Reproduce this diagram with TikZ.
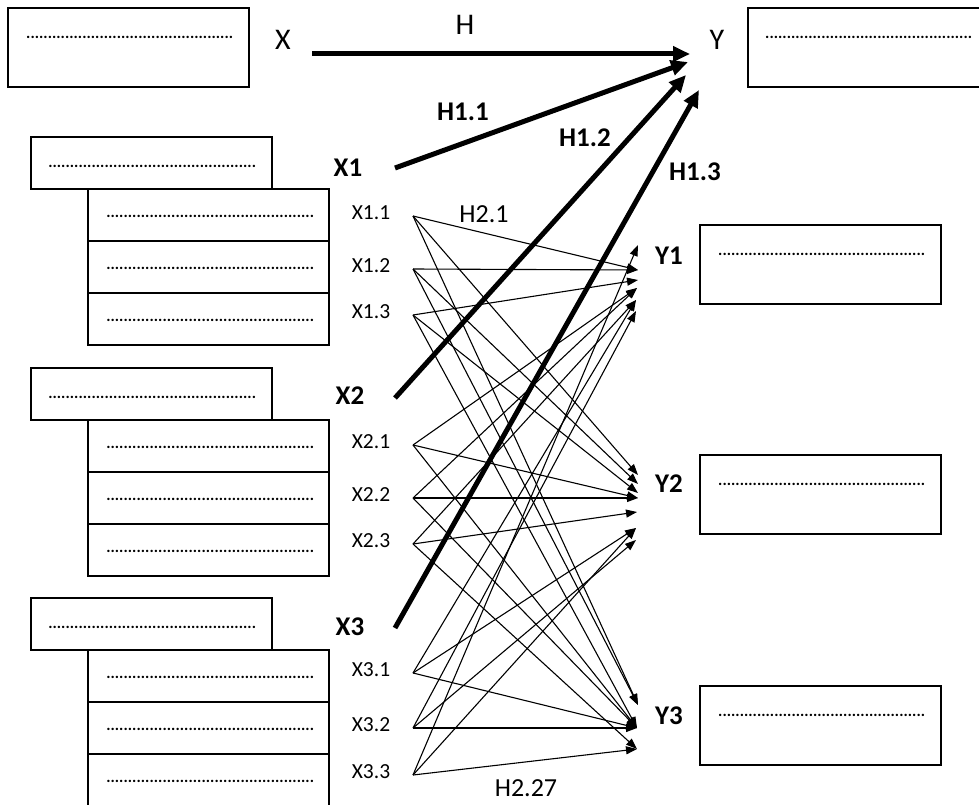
\documentclass[tikz,border=0pt]{standalone}
\usepackage{fontspec}
\setmainfont{Carlito}
\usetikzlibrary{arrows.meta}
\newcommand{\dotrow}[1]{\hbox to #1{\fontsize{16}{16}\selectfont\bfseries\xleaders\hbox{.}\hfill}}
\tikzset{
  box/.style={draw, line width=1.2pt, fill=white},
  big/.style={line width=5pt, -{Triangle[length=17pt,width=15pt]}},
  thin/.style={line width=1.1pt, -{Triangle[length=11pt,width=8pt]}},
  lbl/.style={font=\fontsize{30}{30}\selectfont, inner sep=0pt},
  blbl/.style={font=\fontsize{27}{27}\selectfont\bfseries, inner sep=0pt},
  slbl/.style={font=\fontsize{21.5}{21.5}\selectfont, inner sep=0pt},
  hlbl/.style={font=\fontsize{26}{26}\selectfont, inner sep=0pt},
  dots/.style={inner sep=0pt, anchor=west},
}
\begin{document}
\begin{tikzpicture}[x=1pt,y=-1pt]
\useasboundingbox (0,0) rectangle (979,805);
% top boxes
\draw[box] (8,8) rectangle (249,87);
\node[dots] (dx) at (26,37) {\dotrow{207pt}};
\draw[box] (748,8) rectangle (990,87);
\node[dots] (dy) at (765,37) {\dotrow{207pt}};
% right boxes
\foreach \n/\y in {1/225, 2/455, 3/686}{
  \draw[box] (700,\y) rectangle (941,\y+79);
  \node[dots] (dyb\n) at (718,\y+29) {\dotrow{207pt}};
}
% left groups
\foreach \g/\y in {1/137, 2/368, 3/598}{
  \draw[box] (31,\y) rectangle (272,\y+52);
  \node[dots] (dg\g) at (48,\y+29) {\dotrow{208pt}};
  \foreach \r in {0,1,2}{
    \draw[box] (88,\y+52+\r*52) rectangle (329,\y+104+\r*52);
    \node[dots] (dg\g\r) at (106,\y+79+\r*52) {\dotrow{208pt}};
  }
}
% main labels
\node[lbl] (X) at (283,40) {X};
\node[lbl] (Y) at (717,40) {Y};
\node[lbl] (H) at (465,25) {H};
\node[blbl] (X1) at (348,168) {X1};
\node[blbl] (X2) at (350,396) {X2};
\node[blbl] (X3) at (350,627) {X3};
\node[blbl] (Y1) at (669,256) {Y1};
\node[blbl] (Y2) at (669,484) {Y2};
\node[blbl] (Y3) at (669,716) {Y3};
\node[blbl] (H11) at (463,112) {H1.1};
\node[blbl] (H12) at (585,138) {H1.2};
\node[blbl] (H13) at (695,172) {H1.3};
\node[hlbl] (H21) at (484,214) {H2.1};
\node[hlbl] (H227) at (526,788) {H2.27};
% small labels and sources
\foreach \n/\t/\y in {11/X1.1/216, 12/X1.2/269, 13/X1.3/315, 21/X2.1/445, 22/X2.2/498, 23/X2.3/544, 31/X3.1/673, 32/X3.2/728, 33/X3.3/775}{
  \node[slbl] (L\n) at (371,\y-3) {\t};
  \coordinate (s\n) at (413,\y);
}
% thick arrow endpoints
\coordinate (hs) at (312,54);
\coordinate (he) at (690,54);
\coordinate (h1s) at (395,168);
\coordinate (h1e) at (688,62);
\coordinate (h2s) at (395,398);
\coordinate (h2e) at (686,75);
\coordinate (h3s) at (395,628);
\coordinate (h3e) at (699,90);
% target points
\coordinate (a1) at (638,245);
\coordinate (a2) at (638,270);
\coordinate (a3) at (638,280);
\coordinate (a4) at (637,288);
\coordinate (a5) at (636,300);
\coordinate (a6) at (636,311);
\coordinate (b1) at (638,475);
\coordinate (b2) at (638,484);
\coordinate (b3) at (638,493);
\coordinate (b4) at (638,498);
\coordinate (b5) at (637,512);
\coordinate (b6) at (636,528);
\coordinate (b7) at (636,540);
\coordinate (c1) at (638,705);
\coordinate (c2) at (637,728);
\coordinate (c3) at (637,749);
% thin arrows to Y1
\draw[thin] (s11) -- (a2);
\draw[thin] (s12) -- (a2);
\draw[thin] (s13) -- (a3);
\draw[thin] (s21) -- (a4);
\draw[thin] (s22) -- (a4);
\draw[thin] (s23) -- (a5);
\draw[thin] (s31) -- (a5);
\draw[thin] (s32) -- (a6);
\draw[thin] (s33) -- (a1);
% thin arrows to Y2
\draw[thin] (s11) -- (b1);
\draw[thin] (s12) -- (b2);
\draw[thin] (s13) -- (b3);
\draw[thin] (s21) -- (b4);
\draw[thin] (s22) -- (b4);
\draw[thin] (s23) -- (b5);
\draw[thin] (s31) -- (b6);
\draw[thin] (s32) -- (b7);
\draw[thin] (s33) -- (b6);
% thin arrows to Y3
\draw[thin] (s11) -- (c1);
\draw[thin] (s12) -- (c1);
\draw[thin] (s13) -- (c2);
\draw[thin] (s21) -- (c2);
\draw[thin] (s22) -- (c2);
\draw[thin] (s23) -- (c3);
\draw[thin] (s31) -- (c2);
\draw[thin] (s32) -- (c2);
\draw[thin] (s33) -- (c3);
% thick arrows
\draw[big] (hs) -- (he);
\draw[big] (h1s) -- (h1e);
\draw[big] (h2s) -- (h2e);
\draw[big] (h3s) -- (h3e);
\end{tikzpicture}
\end{document}
